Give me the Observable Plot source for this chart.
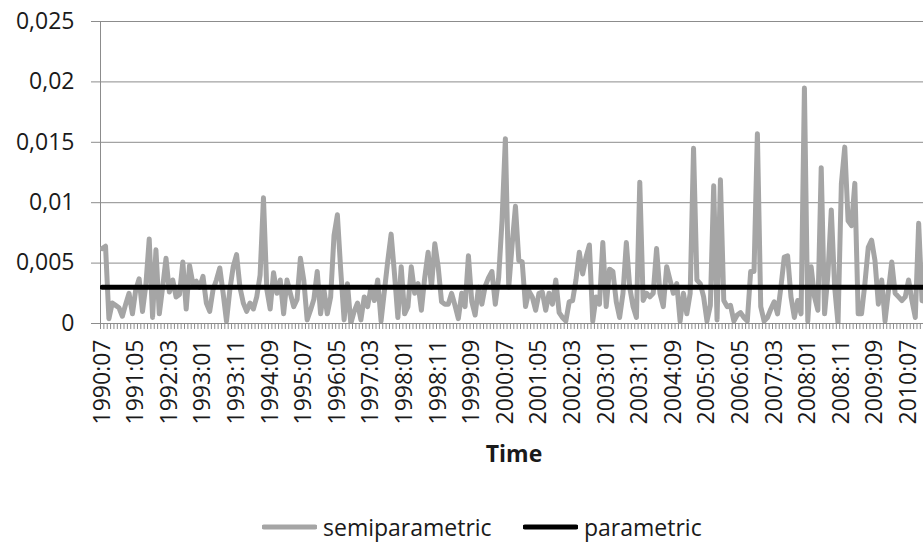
<!DOCTYPE html>
<html><head><meta charset="utf-8">
<script src="https://cdn.jsdelivr.net/npm/d3@7"></script>
<script src="https://cdn.jsdelivr.net/npm/@observablehq/plot@0.6"></script>
<style>
body{margin:0;background:#fff;font-family:"Open Sans",sans-serif;}
#wrap{position:relative;width:923px;height:545px;overflow:hidden;background:#fff;}
.leg{position:absolute;top:511px;display:flex;align-items:center;font-size:23px;color:#1a1a1a;line-height:32px;white-space:nowrap;}
.leg svg{margin-right:6px;}
</style></head><body>
<div id="wrap"><div id="chart"></div><div id="legend"></div></div>
<script>
const startYear = 1990, startMonth = 7;
const semiparametric = [
0.0062,0.0064,0.0004,0.0017,0.0015,0.0013,0.0006,0.0016,0.0025,0.0008,
0.0028,0.0037,0.001,0.0032,0.007,0.0005,0.0061,0.0008,0.003,0.0054,
0.0026,0.0036,0.0022,0.0024,0.0051,0.0012,0.0048,0.0033,0.0035,0.003,
0.0039,0.0017,0.001,0.0028,0.0036,0.0046,0.0025,0.0002,0.0028,0.0047,
0.0057,
0.003,0.0017,0.001,0.0017,0.0012,0.0022,0.004,0.0104,0.0028,0.0012,
0.0042,0.0025,0.0036,0.0008,0.0036,0.0025,0.0014,0.002,0.0054,0.0036,
0.0003,0.0011,0.002,0.0043,0.0008,0.0028,0.0008,0.0022,0.0073,0.009,
0.0044,0.0003,0.0033,0.0,0.001,0.0017,0.0003,0.0022,0.0014,0.003,
0.0019,0.0036,0.0002,0.0027,0.0052,0.0074,0.0041,0.0005,0.0047,0.0008,
0.0014,0.0047,0.0025,0.0033,0.0011,0.0038,0.0059,0.003,0.0066,0.0047,
0.0018,0.0016,0.0016,0.0025,0.0015,0.0004,0.0025,0.0014,0.0056,0.0018,
0.0007,0.003,0.0016,0.0031,0.0038,0.0043,0.0016,0.0038,0.0085,0.0153,
0.003,0.0065,0.0097,0.0052,0.0051,0.0014,0.0027,0.0022,0.0011,0.0025,
0.0026,0.0011,0.0025,0.0016,0.0036,0.0009,0.0005,0.0002,0.0018,0.0019,
0.0036,0.0059,0.0041,0.0055,0.0065,0.0002,0.0022,0.0016,0.0067,0.0014,
0.0045,0.0043,0.0018,0.0005,0.0025,0.0067,0.003,0.0014,0.0005,0.0117,
0.0019,0.0025,0.0022,
0.0025,0.0062,0.0025,0.0014,0.0047,0.0036,0.0025,0.0033,0.0002,0.0025,
0.0008,0.0025,0.0145,0.0036,0.0033,0.0022,0.0002,0.0015,0.0114,0.0003,
0.0119,0.0019,0.0014,0.0015,0.0002,0.0007,0.0009,0.0005,0.0002,0.0043,
0.0043,0.0157,0.0014,0.0002,0.0005,0.0012,0.0018,0.0008,0.003,0.0055,
0.0056,
0.0022,0.0005,0.0019,0.0008,0.0195,0.0002,0.0047,0.0022,0.0011,0.0129,
0.0008,0.0041,0.0094,0.003,0.0,0.0116,0.0146,0.0085,0.0081,0.0116,
0.0008,0.0008,0.0033,0.0063,0.0069,0.0052,0.0016,0.0036,0.0002,0.0027,
0.0051,0.0025,0.0022,0.0019,0.0022,0.0036,0.0019,0.0005,0.0083,0.0019,
0.0018
];
const parametricLevel = 0.003;
const xTickLabels = ["1990:07","1991:05","1992:03","1993:01","1993:11","1994:09","1995:07","1996:05","1997:03","1998:01","1998:11","1999:09","2000:07","2001:05","2002:03","2003:01","2003:11","2004:09","2005:07","2006:05","2007:03","2008:01","2008:11","2009:09","2010:07"];
const yTicks = [0, 0.005, 0.01, 0.015, 0.02, 0.025];
const yTickLabels = ["0", "0,005", "0,01", "0,015", "0,02", "0,025"];
const seriesNames = ["semiparametric", "parametric"];
const seriesColors = ["#a5a5a5", "#000000"];
const axisTitle = "Time";

const months = semiparametric.map((_, i) => {
  const m = startMonth - 1 + i;
  return `${startYear + Math.floor(m / 12)}:${String(m % 12 + 1).padStart(2, "0")}`;
});
const data = semiparametric.map((v, i) => ({i, month: months[i], semi: v, para: parametricLevel}));
const labelIdx = xTickLabels.map(l => months.indexOf(l));
const xMax = 244.44;
const boundaries = d3.range(0, months.length + 1).map(i => i - 0.5).filter(b => b <= xMax);
const gridColor = "#8c8c8c";

const chart = Plot.plot({
  width: 923, height: 480,
  marginLeft: 100, marginRight: 0, marginTop: 21, marginBottom: 157,
  style: {fontFamily: "'Open Sans', sans-serif", fontSize: "23px", color: "#1a1a1a", background: "transparent", overflow: "hidden"},
  x: {type: "linear", domain: [-0.5, xMax]},
  y: {domain: [0, 0.025]},
  marks: [
    Plot.ruleY(yTicks, {stroke: gridColor, strokeWidth: 1}),
    Plot.ruleX([-0.5], {stroke: gridColor, strokeWidth: 1}),
    Plot.axisY({ticks: yTicks, tickFormat: d => yTickLabels[yTicks.indexOf(d)], tickSize: 9, tickPadding: 17, stroke: gridColor, fill: "#1a1a1a", label: null}),
    Plot.axisX({ticks: boundaries, tickFormat: () => "", tickSize: 6, stroke: gridColor, label: null}),
    Plot.axisX({ticks: labelIdx, tickFormat: d => months[d], tickSize: 0, tickPadding: 16, tickRotate: -90, fill: "#1a1a1a", label: null}),
    Plot.lineY(data, {x: "i", y: "semi", stroke: seriesColors[0], strokeWidth: 5, clip: true}),
    Plot.lineY(data, {x: "i", y: "para", stroke: seriesColors[1], strokeWidth: 5, clip: true}),
    Plot.text([axisTitle], {frameAnchor: "bottom", textAnchor: "middle", lineAnchor: "middle", dy: 131, dx: 2, fontWeight: "bold", fontSize: 23, fill: "#1a1a1a"})
  ]
});
document.getElementById("chart").appendChild(chart);

const legend = document.getElementById("legend");
const legLefts = [262, 523];
seriesNames.forEach((name, k) => {
  const item = document.createElement("div");
  item.className = "leg";
  item.style.left = legLefts[k] + "px";
  item.innerHTML = `<svg width="55" height="8"><line x1="2" y1="4" x2="53" y2="4" stroke="${seriesColors[k]}" stroke-width="5" stroke-linecap="round"/></svg><span>${name}</span>`;
  legend.appendChild(item);
});
</script>
</body></html>
